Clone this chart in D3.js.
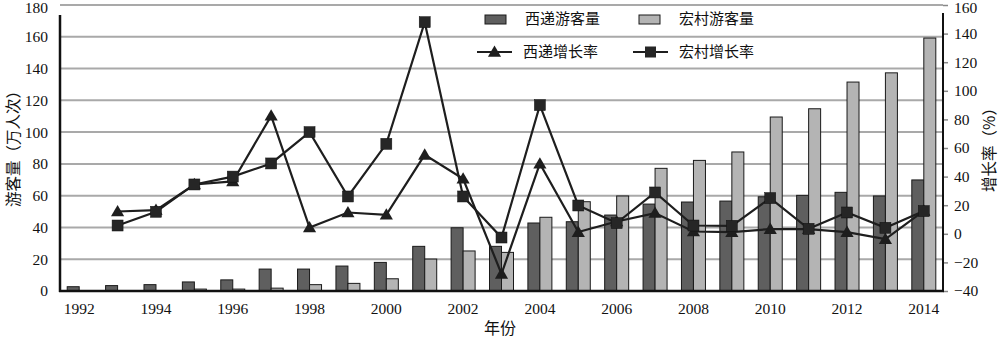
<!DOCTYPE html>
<html><head><meta charset="utf-8">
<script src="https://cdn.jsdelivr.net/npm/d3@7/dist/d3.min.js"></script>
<style>
html,body{margin:0;padding:0;background:#fff;}
svg text{fill:#111;}
</style></head>
<body><svg id="c" width="1000" height="338"></svg>
<script>
const years = ["1992","1993","1994","1995","1996","1997","1998","1999","2000","2001","2002","2003","2004","2005","2006","2007","2008","2009","2010","2011","2012","2013","2014"];
const xidiVisitors = [2.7,3.4,4.0,5.7,7.0,13.8,13.8,15.7,18.0,28.1,39.8,28.1,42.8,43.6,47.8,54.7,56.0,56.6,59.3,60.2,62.1,59.8,69.9];
const hongcunVisitors = [0,0,0,1.2,1.2,1.8,4.0,4.8,7.7,20.1,25.2,24.3,46.4,56.2,59.8,77.2,82.2,87.5,109.5,114.7,131.5,137.3,159.2];
const xidiGrowth = [null,15.6,16.6,34.5,36.6,82.5,4.4,14.9,13.3,55.2,38.5,-28,49,1.2,8.6,14.5,1.6,1.2,3.3,3.3,1.2,-3.7,16];
const hongcunGrowth = [null,5.8,15.4,34.5,40,49.2,71.1,26.1,62.9,148,26.1,-2.6,90,19.8,7.5,28.9,5.8,5.6,25,3.5,14.9,4.2,15.9];
const leftTicks = [0,20,40,60,80,100,120,140,160,180];
const rightTicks = [-40,-20,0,20,40,60,80,100,120,140,160];
const xTickLabels = ["1992","1994","1996","1998","2000","2002","2004","2006","2008","2010","2012","2014"];
const seriesNames = ["西递游客量","宏村游客量","西递增长率","宏村增长率"];
const yTitle = "游客量（万人次）", y2Title = "增长率（%）", xTitle = "年份";

const NUMF = "'Liberation Serif', 'Times New Roman', 'DejaVu Serif', serif";
const CJKF = "'Noto Sans CJK SC', sans-serif";
const svg = d3.select("#c");
const L = 60, R = 943, T = 5, B = 291;
const x = d3.scaleBand().domain(years).range([L, R]).paddingInner(0.375).paddingOuter(0.1875);
const xs = d3.scaleBand().domain(["xidi","hongcun"]).range([0, x.bandwidth()]);
const y = d3.scaleLinear().domain([0,180]).range([B, T]);
const y2 = d3.scaleLinear().domain([-40,160]).range([B, T]);
const dark = "#5f5f5f", light = "#b4b4b4", lineC = "#1e1e1e";

// gridlines
svg.append("g").selectAll("line").data(leftTicks.filter(d=>d>0)).join("line")
  .attr("x1", L).attr("x2", R).attr("y1", d=>y(d)).attr("y2", d=>y(d))
  .attr("stroke", "#a9a9a9").attr("stroke-width", 2);

// bars
const bars = svg.append("g");
years.forEach((yr,i)=>{
  [["xidi", xidiVisitors[i], dark],["hongcun", hongcunVisitors[i], light]].forEach(([k,v,c])=>{
    if (!v) return;
    bars.append("rect").attr("x", x(yr)+xs(k)).attr("width", xs.bandwidth())
      .attr("y", y(v)).attr("height", y(0)-y(v))
      .attr("fill", c).attr("stroke", "#1a1a1a").attr("stroke-width", 1);
  });
});

// left axis
const gl = svg.append("g").attr("transform", `translate(${L},0)`)
  .call(d3.axisLeft(y).tickValues(leftTicks).tickSize(0).tickPadding(12));
gl.attr("font-family", null);
gl.select(".domain").remove();
gl.selectAll("text").style("font-family", NUMF).style("font-size","15.5px").attr("dy", d => d===180 ? "0.5em" : "0.32em");
svg.append("line").attr("x1", L).attr("x2", L).attr("y1", T+10).attr("y2", B+1).attr("stroke", "#111").attr("stroke-width", 2.5);

// right axis
const gr = svg.append("g").attr("transform", `translate(${R},0)`)
  .call(d3.axisRight(y2).tickValues(rightTicks).tickSize(5).tickPadding(6).tickFormat(d=> d<0 ? "\u2212"+Math.abs(d) : d));
gr.attr("font-family", null);
gr.select(".domain").remove();
gr.selectAll("line").attr("stroke", "#888").attr("stroke-width", 1.5);
gr.selectAll("text").style("font-family", NUMF).style("font-size","15.5px").attr("dy", d => d===160 ? "0.5em" : "0.32em");
svg.append("line").attr("x1", R).attr("x2", R).attr("y1", T+8).attr("y2", B+1).attr("stroke", "#111").attr("stroke-width", 2);

// bottom axis
const gb = svg.append("g").attr("transform", `translate(0,${B})`)
  .call(d3.axisBottom(x).tickValues(xTickLabels).tickSize(0).tickPadding(12));
gb.attr("font-family", null);
gb.select(".domain").remove();
gb.selectAll("text").style("font-family", NUMF).style("font-size","15.5px");
svg.append("line").attr("x1", L-1).attr("x2", R+1).attr("y1", B).attr("y2", B).attr("stroke", "#111").attr("stroke-width", 2.5);

// lines
const cx = yr => x(yr) + x.bandwidth()/2;
const line = d3.line().defined(d=>d[1]!=null).x(d=>cx(d[0])).y(d=>y2(d[1]));
const triSym = d3.symbol().type(d3.symbolTriangle).size(75);
function drawSeries(vals, marker){
  const pts = years.map((yr,i)=>[yr, vals[i]]);
  svg.append("path").datum(pts).attr("d", line).attr("fill","none").attr("stroke", lineC).attr("stroke-width", 2.2);
  const g = svg.append("g");
  pts.filter(d=>d[1]!=null).forEach(d=>{
    if (marker === "tri") {
      g.append("path").attr("d", triSym()).attr("transform", `translate(${cx(d[0])},${y2(d[1])+1})`).attr("fill", "#1e1e1e");
    } else {
      g.append("rect").attr("x", cx(d[0])-5.5).attr("y", y2(d[1])-5.5).attr("width", 11).attr("height", 11).attr("fill", "#262626").attr("stroke","#111").attr("stroke-width",0.5);
    }
  });
}
drawSeries(xidiGrowth, "tri");
drawSeries(hongcunGrowth, "sq");

// legend
const lg = svg.append("g");
const sw = [[485, 19, dark],[639, 19, light]];
sw.forEach((s,i)=>{
  lg.append("rect").attr("x", s[0]).attr("y", s[1]-4).attr("width", 21).attr("height", 9).attr("fill", s[2]).attr("stroke","#1a1a1a").attr("stroke-width",1);
  lg.append("text").style("font-family", CJKF).attr("x", s[0]+40).attr("y", s[1]+1).attr("dominant-baseline","middle").attr("font-size", 15).text(seriesNames[i]);
});
const ln = [[477, 52, "tri"],[633, 52, "sq"]];
ln.forEach((s,i)=>{
  lg.append("line").attr("x1", s[0]).attr("x2", s[0]+35).attr("y1", s[1]).attr("y2", s[1]).attr("stroke", lineC).attr("stroke-width", 2);
  if (s[2]==="tri") lg.append("path").attr("d", triSym()).attr("transform", `translate(${s[0]+17.5},${s[1]+1})`).attr("fill","#1e1e1e");
  else lg.append("rect").attr("x", s[0]+12).attr("y", s[1]-5.5).attr("width", 11).attr("height", 11).attr("fill","#262626");
  lg.append("text").style("font-family", CJKF).attr("x", s[0]+46).attr("y", s[1]+1).attr("dominant-baseline","middle").attr("font-size", 15).text(seriesNames[i+2]);
});

// titles
svg.append("text").style("font-family", CJKF).attr("transform", "translate(15,145) rotate(-90)").attr("text-anchor","middle").attr("dominant-baseline","middle").attr("font-size", 15.5).text(yTitle);
svg.append("text").style("font-family", CJKF).attr("transform", "translate(991,146) rotate(-90)").attr("text-anchor","middle").attr("dominant-baseline","middle").attr("font-size", 15.5).text(y2Title);
svg.append("text").style("font-family", CJKF).attr("x", 500).attr("y", 330).attr("text-anchor","middle").attr("dominant-baseline","middle").attr("font-size", 16).text(xTitle);
</script></body></html>
